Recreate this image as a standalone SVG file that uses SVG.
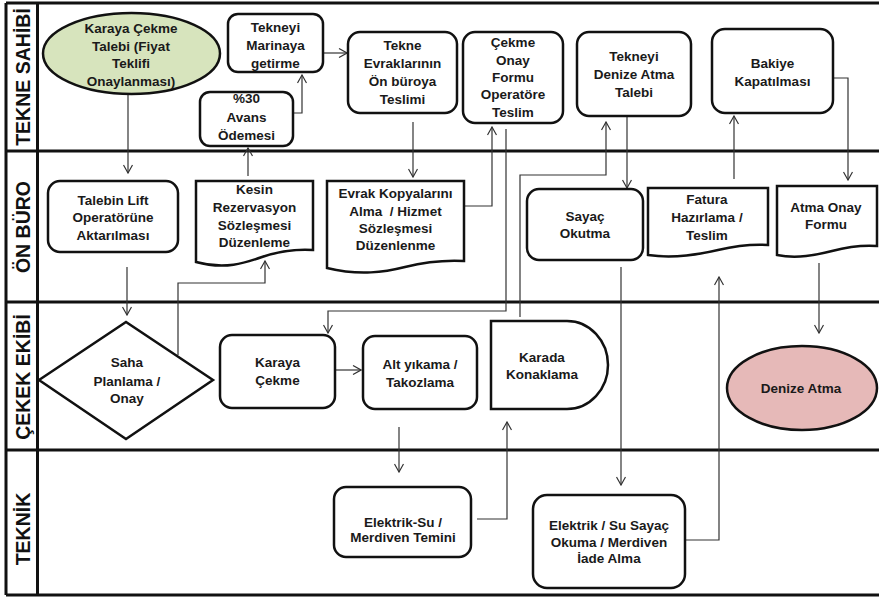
<svg xmlns="http://www.w3.org/2000/svg" width="879" height="597" viewBox="0 0 879 597">
<style>
.lane{stroke:#111;stroke-width:3;fill:none}
.nd{fill:#fff;stroke:#111;stroke-width:2.5}
.t{font-family:"Liberation Sans",Arial,sans-serif;font-weight:bold;font-size:13.5px;fill:#1a1a1a;text-anchor:middle;dominant-baseline:central}
.lt{font-family:"Liberation Sans",Arial,sans-serif;font-weight:bold;font-size:19.5px;fill:#111;text-anchor:middle;dominant-baseline:central}
.c{fill:none;stroke:#333;stroke-width:1.2}
.ca{fill:none;stroke:#333;stroke-width:1.2;marker-end:url(#ah)}
</style>
<defs>
<marker id="ah" viewBox="0 0 10 10" refX="9" refY="5" markerWidth="10" markerHeight="10" markerUnits="userSpaceOnUse" orient="auto">
<path d="M1,0.5 L9,5 L1,9.5" fill="none" stroke="#333" stroke-width="1.2"/>
</marker>
</defs>
<rect width="879" height="597" fill="#fff"/>
<g id="lanes">
<line class="lane" x1="6" y1="3" x2="879" y2="3"/>
<line class="lane" x1="6" y1="151" x2="879" y2="151"/>
<line class="lane" x1="6" y1="302" x2="879" y2="302"/>
<line class="lane" x1="6" y1="450" x2="879" y2="450"/>
<line class="lane" x1="6" y1="595" x2="879" y2="595" stroke-width="2"/>
<line class="lane" x1="6" y1="3" x2="6" y2="595" stroke-width="2.5"/>
<line class="lane" x1="37.5" y1="3" x2="37.5" y2="595"/>
<text class="lt" transform="translate(23,77) rotate(-90)">TEKNE SAHİBİ</text>
<text class="lt" transform="translate(23,227) rotate(-90)">ÖN BÜRO</text>
<text class="lt" transform="translate(23,377) rotate(-90)">ÇEKEK EKİBİ</text>
<text class="lt" transform="translate(23,529) rotate(-90)">TEKNİK</text>
</g>
<g id="connectors">
<path class="ca" d="M128,94 V173"/>
<path class="ca" d="M323,53 H347"/>
<path class="ca" d="M293,113 H302 V75"/>
<path class="ca" d="M248,176 V148"/>
<path class="ca" d="M127,267 V315"/>
<path class="ca" d="M178,355 V283 H265 V261"/>
<path class="ca" d="M413,122 V177"/>
<path class="ca" d="M464,206 H492 V127"/>
<path class="ca" d="M506,129 V311 H328 V333"/>
<path class="ca" d="M520,317 V175 H606 V122"/>
<path class="ca" d="M627,116 V188"/>
<path class="ca" d="M621,267 V485"/>
<path class="ca" d="M685,540 H719 V277"/>
<path class="ca" d="M734,179 V116"/>
<path class="ca" d="M830,78 H848 V180"/>
<path class="ca" d="M819,263 V333"/>
<path class="ca" d="M335,370 H361"/>
<path class="ca" d="M399,427 V472"/>
<path class="ca" d="M477,519 H507 V422"/>
</g>
<g id="n1">
<ellipse class="nd" cx="131.5" cy="53.5" rx="88.5" ry="40.5" fill="#d7e4bd" style="fill:#d7e4bd"/>
<text class="t" x="131" y="28">Karaya Çekme</text>
<text class="t" x="131" y="46">Talebi (Fiyat</text>
<text class="t" x="131" y="63.5">Teklifi</text>
<text class="t" x="131" y="81">Onaylanması)</text>
</g>
<g id="n2">
<rect class="nd" x="228" y="14" width="95" height="58" rx="10"/>
<text class="t" x="275.5" y="27">Tekneyi</text>
<text class="t" x="275.5" y="45">Marinaya</text>
<text class="t" x="275.5" y="63">getirme</text>
</g>
<g id="n3">
<rect class="nd" x="200" y="92" width="93" height="54" rx="10"/>
<text class="t" x="246.5" y="98">%30</text>
<text class="t" x="246.5" y="117">Avans</text>
<text class="t" x="246.5" y="135">Ödemesi</text>
</g>
<g id="n4">
<rect class="nd" x="348" y="32" width="109" height="81" rx="12"/>
<text class="t" x="402.5" y="45">Tekne</text>
<text class="t" x="402.5" y="63">Evraklarının</text>
<text class="t" x="402.5" y="81">Ön büroya</text>
<text class="t" x="402.5" y="99">Teslimi</text>
</g>
<g id="n5">
<rect class="nd" x="463" y="32" width="100" height="91" rx="12"/>
<text class="t" x="513" y="42">Çekme</text>
<text class="t" x="513" y="60">Onay</text>
<text class="t" x="513" y="77">Formu</text>
<text class="t" x="513" y="94">Operatöre</text>
<text class="t" x="513" y="112">Teslim</text>
</g>
<g id="n6">
<rect class="nd" x="577" y="32" width="114" height="84" rx="12"/>
<text class="t" x="634" y="56">Tekneyi</text>
<text class="t" x="634" y="74">Denize Atma</text>
<text class="t" x="634" y="92">Talebi</text>
</g>
<g id="n7">
<rect class="nd" x="712" y="29" width="121" height="84" rx="13"/>
<text class="t" x="772.5" y="63">Bakiye</text>
<text class="t" x="772.5" y="81">Kapatılması</text>
</g>
<g id="n8">
<rect class="nd" x="48" y="181" width="130" height="71" rx="12"/>
<text class="t" x="113" y="200">Talebin Lift</text>
<text class="t" x="113" y="217">Operatörüne</text>
<text class="t" x="113" y="235">Aktarılması</text>
</g>
<g id="n9">
<path class="nd" d="M196,181 H313 V250 C298,249 280,251 262,257 C245,263 225,270 196,262 Z"/>
<text class="t" x="254.5" y="189">Kesin</text>
<text class="t" x="254.5" y="207">Rezervasyon</text>
<text class="t" x="254.5" y="225">Sözleşmesi</text>
<text class="t" x="254.5" y="242">Düzenleme</text>
</g>
<g id="n10">
<path class="nd" d="M327,181 H464 V261 C445,260 425,262 405,267 C385,272 360,276 327,268 Z"/>
<text class="t" x="395.5" y="193">Evrak Kopyalarını</text>
<text class="t" x="395.5" y="211" xml:space="preserve">Alma  / Hizmet</text>
<text class="t" x="395.5" y="228">Sözleşmesi</text>
<text class="t" x="395.5" y="245">Düzenlenme</text>
</g>
<g id="n11">
<rect class="nd" x="527" y="189" width="116" height="71" rx="12"/>
<text class="t" x="585" y="216">Sayaç</text>
<text class="t" x="585" y="233">Okutma</text>
</g>
<g id="n12">
<path class="nd" d="M648,188 H768 V245 C752,244 735,246 718,250 C700,254 675,259 648,255 Z"/>
<text class="t" x="707" y="199">Fatura</text>
<text class="t" x="707" y="217">Hazırlama /</text>
<text class="t" x="707" y="235">Teslim</text>
</g>
<g id="n13">
<path class="nd" d="M777,186 H877 V246 C862,245 847,247 832,251 C816,255 797,259 777,255 Z"/>
<text class="t" x="826" y="207">Atma Onay</text>
<text class="t" x="826" y="224">Formu</text>
</g>
<g id="n14">
<polygon class="nd" points="39,380 126,322 213,380 126,439"/>
<text class="t" x="127" y="362">Saha</text>
<text class="t" x="127" y="381">Planlama /</text>
<text class="t" x="127" y="398">Onay</text>
</g>
<g id="n15">
<rect class="nd" x="220" y="335" width="115" height="73" rx="12"/>
<text class="t" x="277.5" y="362">Karaya</text>
<text class="t" x="277.5" y="380">Çekme</text>
</g>
<g id="n16">
<rect class="nd" x="363" y="336" width="114" height="73" rx="12"/>
<text class="t" x="420" y="364">Alt yıkama /</text>
<text class="t" x="420" y="382">Takozlama</text>
</g>
<g id="n17">
<path class="nd" d="M491,321 H567 A41,44 0 0 1 567,409 H491 Z"/>
<text class="t" x="542" y="357">Karada</text>
<text class="t" x="542" y="374">Konaklama</text>
</g>
<g id="n18">
<ellipse class="nd" cx="802" cy="388" rx="75" ry="42" style="fill:#e6b9b8"/>
<text class="t" x="801" y="388">Denize Atma</text>
</g>
<g id="n19">
<rect class="nd" x="334" y="487" width="137" height="70" rx="12"/>
<text class="t" x="403" y="522">Elektrik-Su /</text>
<text class="t" x="403" y="537">Merdiven Temini</text>
</g>
<g id="n20">
<rect class="nd" x="533" y="495" width="152" height="93" rx="14"/>
<text class="t" x="609" y="525">Elektrik /  Su Sayaç</text>
<text class="t" x="609" y="542">Okuma / Merdiven</text>
<text class="t" x="609" y="558">İade Alma</text>
</g>
</svg>
